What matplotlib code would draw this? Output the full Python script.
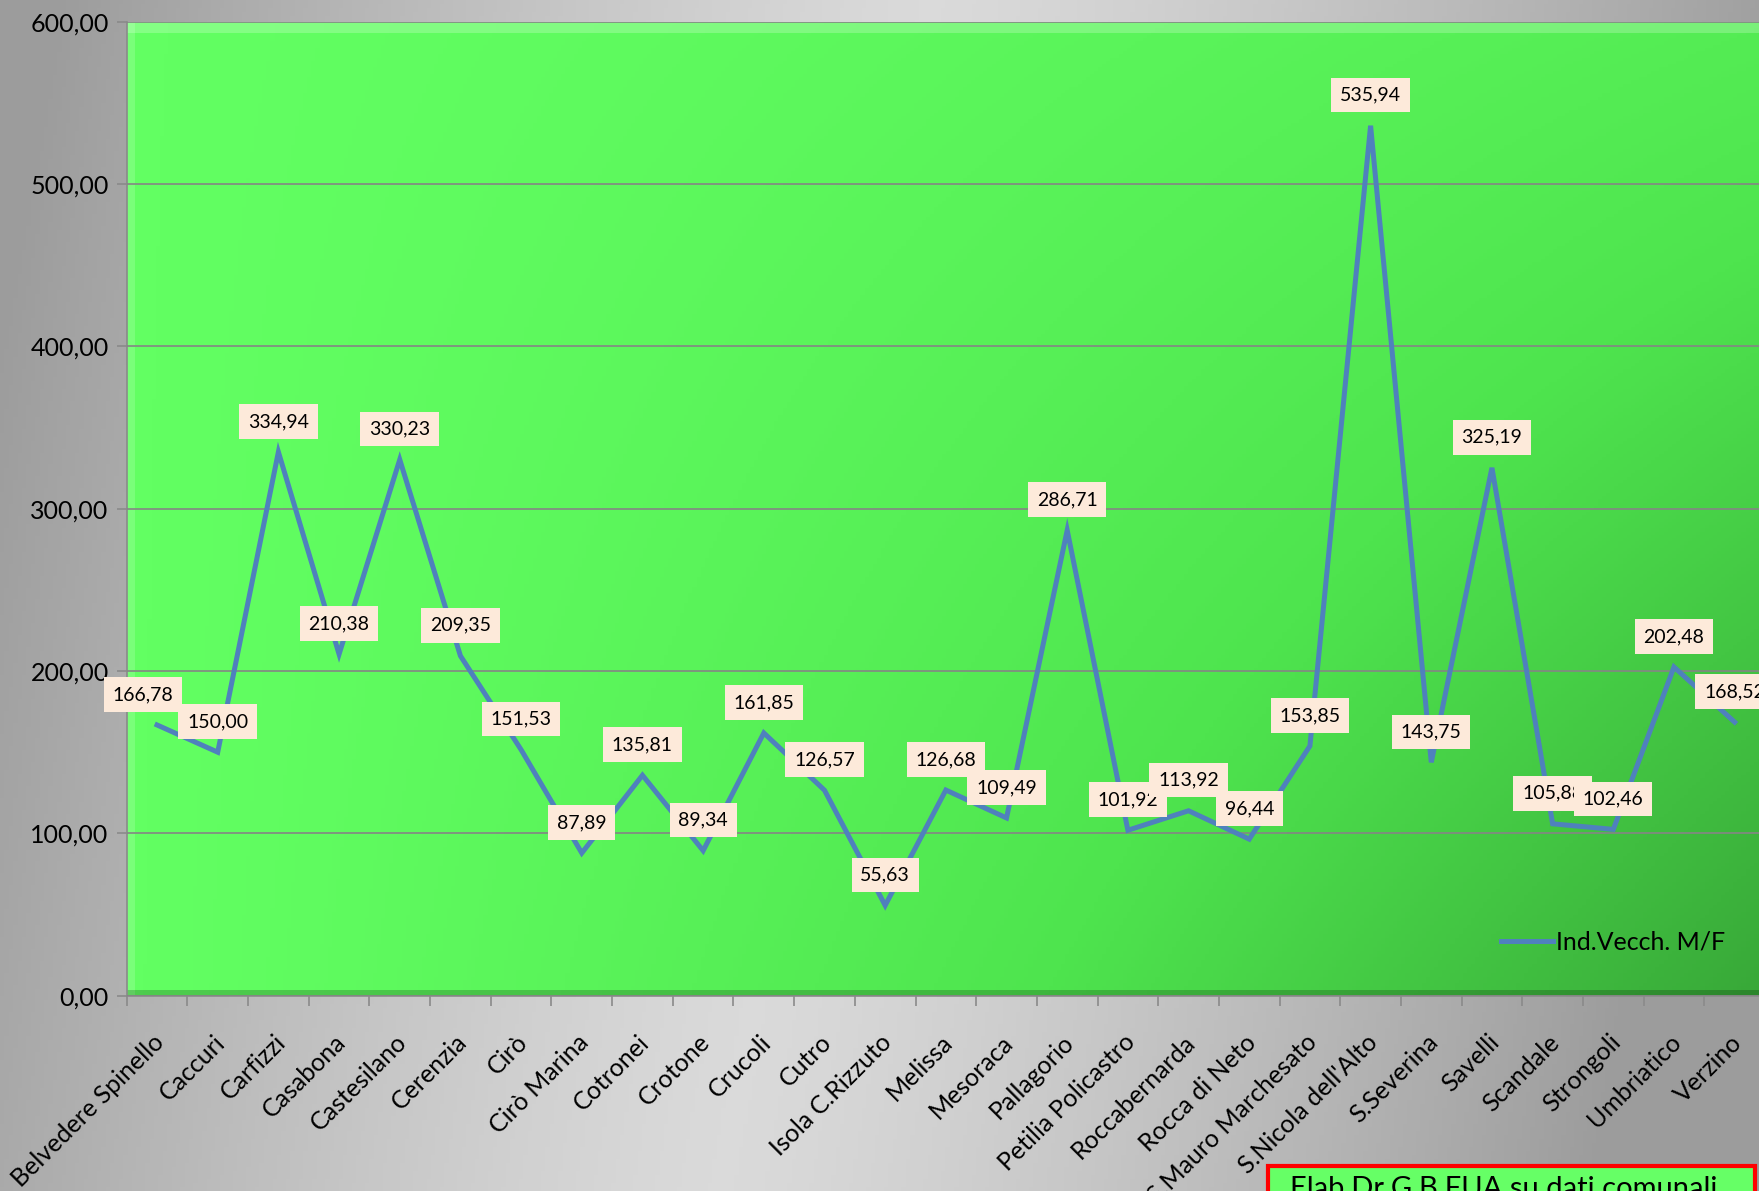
import numpy as np
import matplotlib
matplotlib.use("Agg")
import matplotlib.pyplot as plt
import matplotlib.transforms as mtransforms
from matplotlib.colors import LinearSegmentedColormap
from matplotlib.patches import Rectangle

plt.rcParams['font.family'] = ['Lato', 'DejaVu Sans']

# dati
comuni = ["Belvedere Spinello", "Caccuri", "Carfizzi", "Casabona", "Castesilano",
          "Cerenzia", "Cirò", "Cirò Marina", "Cotronei", "Crotone", "Crucoli",
          "Cutro", "Isola C.Rizzuto", "Melissa", "Mesoraca", "Pallagorio",
          "Petilia Policastro", "Roccabernarda", "Rocca di Neto",
          "S.Mauro Marchesato", "S.Nicola dell'Alto", "S.Severina", "Savelli",
          "Scandale", "Strongoli", "Umbriatico", "Verzino"]
ind_vecch = [166.78, 150.00, 334.94, 210.38, 330.23, 209.35, 151.53, 87.89,
             135.81, 89.34, 161.85, 126.57, 55.63, 126.68, 109.49, 286.71,
             101.92, 113.92, 96.44, 153.85, 535.94, 143.75, 325.19, 105.88,
             102.46, 202.48, 168.52]
y_ticks = [0, 100, 200, 300, 400, 500, 600]


def fmt(v):
    return f"{v:.2f}".replace(".", ",")


W, H = 1759, 1191
fig = plt.figure(figsize=(W / 100, H / 100), dpi=100)

# sfondo grigio sfumato
bg = fig.add_axes([0, 0, 1, 1], zorder=-10)
gx, gy = np.meshgrid(np.linspace(0, 1, 400), np.linspace(0, 1, 300))
d = np.abs((gx - 0.47) + 0.12 * (gy - 0.5)) / 0.5
d = np.clip(d, 0, 1) ** 1.3
grey = LinearSegmentedColormap.from_list("g", ["#dadada", "#9c9c9c"])
bg.imshow(d, cmap=grey, extent=(0, 1, 0, 1), aspect="auto", vmin=0, vmax=1)
bg.axis("off")

left, right = 126.7 / W, 1765 / W
bottom, top = 1 - 995.7 / H, 1 - 21.7 / H
ax = fig.add_axes([left, bottom, right - left, top - bottom])
ax.patch.set_visible(False)

# area del grafico verde sfumata
px, py = np.meshgrid(np.linspace(0, 1, 400), np.linspace(1, 0, 300))
t = np.clip(px ** 1.2 * (0.35 + 0.65 * (1 - py)), 0, 1)
green = LinearSegmentedColormap.from_list("v", ["#62ff62", "#4ee44e", "#38a838"])
ax.imshow(t, cmap=green, extent=(0, 1, 0, 1), transform=ax.transAxes,
          aspect="auto", zorder=0, vmin=0, vmax=1)
# effetto rilievo
ax.add_patch(Rectangle((0, 0.988), 1, 0.012, transform=ax.transAxes,
                       color="white", alpha=0.22, lw=0, zorder=0.5))
ax.add_patch(Rectangle((0, 0), 0.005, 1, transform=ax.transAxes,
                       color="white", alpha=0.15, lw=0, zorder=0.5))
ax.add_patch(Rectangle((0, 0), 1, 0.006, transform=ax.transAxes,
                       color="black", alpha=0.2, lw=0, zorder=0.5))

x = np.arange(len(comuni))
ax.set_xlim(-0.5, len(comuni) - 0.5)
ax.set_ylim(0, 600)

ax.set_yticks(y_ticks)
ax.set_yticklabels([fmt(v) for v in y_ticks], fontsize=18)
ax.yaxis.grid(True, color="#858585", lw=1.2, zorder=1)
ax.set_axisbelow(False)

ax.set_xticks(x)
ax.set_xticklabels(comuni, fontsize=18, rotation=45, ha="right", va="top",
                   rotation_mode="anchor")
ax.tick_params(axis="x", length=0, pad=25)
shift = mtransforms.ScaledTranslation(-5 / 100, 0, fig.dpi_scale_trans)
for lbl in ax.get_xticklabels():
    lbl.set_transform(lbl.get_transform() + shift)
ax.set_xticks(np.arange(len(comuni) + 1) - 0.5, minor=True)
ax.tick_params(axis="x", which="minor", length=7, color="#8a8a8a", width=1.2)
ax.tick_params(axis="y", length=7, color="#8a8a8a", width=1.2, pad=6)

for s in ["top", "right"]:
    ax.spines[s].set_visible(False)
for s in ["left", "bottom"]:
    ax.spines[s].set_color("#8a8a8a")
    ax.spines[s].set_linewidth(1.2)

ax.plot(x, ind_vecch, color="#4f81bd", lw=3.6, zorder=3,
        solid_joinstyle="miter", label="Ind.Vecch. M/F")

for i, v in enumerate(ind_vecch):
    dx = -10 if i == 0 else 0
    ax.annotate(fmt(v), (x[i], v), xytext=(dx, 22), textcoords="offset points",
                ha="center", va="center", fontsize=14, zorder=4,
                bbox=dict(boxstyle="square,pad=0.45", fc="#fdeada", ec="none"),
                annotation_clip=False)

ax.legend(loc="center right", bbox_to_anchor=(0.983, 0.055), frameon=False,
          fontsize=18, handlelength=2.1, handletextpad=0.1, borderpad=0)

# riquadro fonte
fig.patches.append(Rectangle((1268 / W, -0.01), 487 / W, (1191 - 1166) / H + 0.01,
                             transform=fig.transFigure, fc="#66ff66",
                             ec="#ff0000", lw=3, zorder=5))
fig.text(1290 / W, 1 - 1176 / H, "Elab.Dr.G.B.FUA su dati comunali",
         fontsize=21, ha="left", va="top", zorder=6)

fig.savefig("out.png", dpi=100)
